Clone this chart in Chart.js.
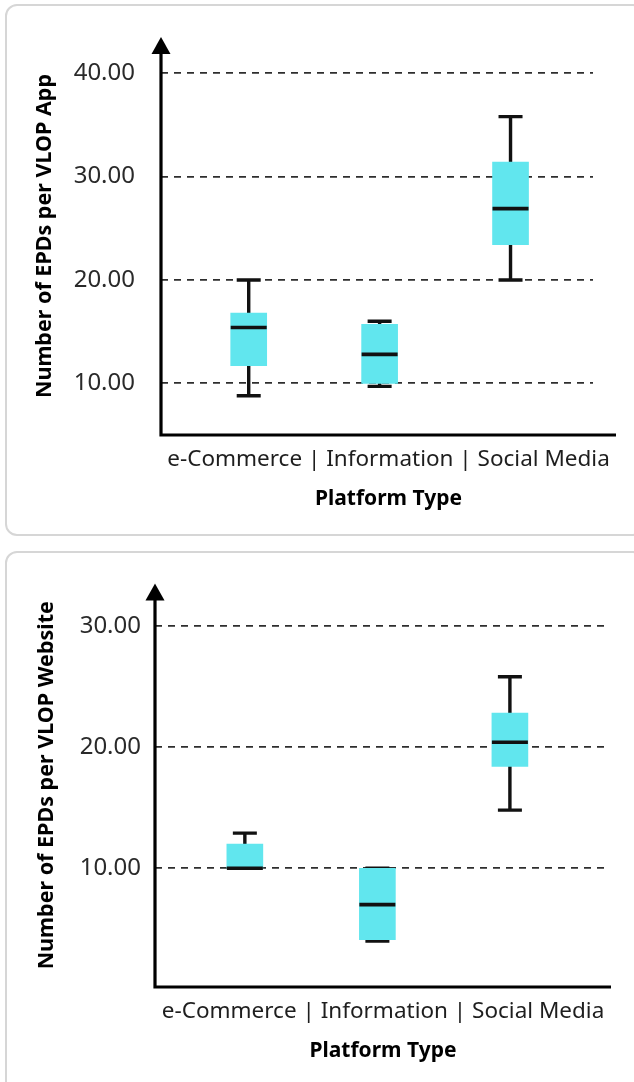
<!DOCTYPE html>
<html>
<head>
<meta charset="utf-8">
<script src="https://cdn.jsdelivr.net/npm/chart.js@4/dist/chart.umd.min.js"></script>
<style>
  html, body { margin: 0; padding: 0; background: #fff; width: 634px; height: 1082px; overflow: hidden; }
  .card { position: absolute; left: 5px; width: 640px; box-sizing: border-box;
          border: 2px solid #d6d6d6; border-radius: 12px; background: #fff; }
  #card1 { top: 4px; height: 532px; }
  #card2 { top: 551px; height: 560px; }
  .card canvas { position: absolute; left: 0; top: 0; }
</style>
</head>
<body>
<div class="card" id="card1"><canvas id="appChart" width="627" height="528"></canvas></div>
<div class="card" id="card2"><canvas id="webChart" width="627" height="528"></canvas></div>
<script>
// Platform categories shared by both panels
const categories = ['e-Commerce', 'Information', 'Social Media'];
const categoryLine = categories.join(' | ');
const xTitle = 'Platform Type';

// EPDs per VLOP app: five-number summaries
const appMin    = [8.8, 9.7, 20.0];
const appQ1     = [11.7, 10.0, 23.4];
const appMedian = [15.4, 12.8, 26.9];
const appQ3     = [16.8, 15.7, 31.4];
const appMax    = [20.0, 16.0, 35.8];
const appTicks  = [10, 20, 30, 40];

// EPDs per VLOP website: five-number summaries
const webMin    = [10.0, 4.0, 14.8];
const webQ1     = [10.0, 4.1, 18.4];
const webMedian = [10.0, 7.0, 20.4];
const webQ3     = [12.0, 10.0, 22.8];
const webMax    = [12.9, 10.0, 25.8];
const webTicks  = [10, 20, 30];

Chart.defaults.font.family = "'Noto Sans', sans-serif";
Chart.defaults.animation = false;

const BOX_COLOR = '#61e6ee';
const INK = '#111111';

// Whiskers, caps and medians are drawn from the summary arrays through the chart scales
const boxPlotPlugin = {
  id: 'boxWhiskers',
  beforeDatasetsDraw(chart, args, opts) {
    const { ctx, scales: { x, y } } = chart;
    ctx.save();
    ctx.strokeStyle = INK;
    ctx.lineWidth = 3.4;
    opts.min.forEach((lo, i) => {
      const cx = x.getPixelForValue(i + 1);
      const yLo = y.getPixelForValue(lo);
      const yHi = y.getPixelForValue(opts.max[i]);
      ctx.beginPath();
      ctx.moveTo(cx, yLo); ctx.lineTo(cx, yHi);
      ctx.moveTo(cx - opts.cap / 2, yLo); ctx.lineTo(cx + opts.cap / 2, yLo);
      ctx.moveTo(cx - opts.cap / 2, yHi); ctx.lineTo(cx + opts.cap / 2, yHi);
      ctx.stroke();
    });
    ctx.restore();
  },
  afterDatasetsDraw(chart, args, opts) {
    const { ctx, scales: { x, y } } = chart;
    ctx.save();
    ctx.strokeStyle = INK;
    ctx.lineWidth = 3.6;
    opts.median.forEach((m, i) => {
      const cx = x.getPixelForValue(i + 1);
      const py = y.getPixelForValue(m);
      ctx.beginPath();
      ctx.moveTo(cx - opts.box / 2, py); ctx.lineTo(cx + opts.box / 2, py);
      ctx.stroke();
    });
    ctx.restore();
  }
};

// Axis lines with an arrow head on the value axis, plus the category line and axis title underneath
const axesPlugin = {
  id: 'arrowAxes',
  afterDraw(chart, args, opts) {
    const { ctx, chartArea: a } = chart;
    ctx.save();
    ctx.strokeStyle = '#000';
    ctx.fillStyle = '#000';
    ctx.lineWidth = 3.2;
    ctx.beginPath();
    ctx.moveTo(a.left, a.bottom + 1.6);
    ctx.lineTo(a.left, a.top + 12);
    ctx.moveTo(a.left - 1.6, a.bottom);
    ctx.lineTo(a.right + opts.extend, a.bottom);
    ctx.stroke();
    ctx.beginPath();
    ctx.moveTo(a.left, a.top);
    ctx.lineTo(a.left - 9.5, a.top + 17);
    ctx.lineTo(a.left + 9.5, a.top + 17);
    ctx.closePath();
    ctx.fill();

    const cx = (a.left + a.right + opts.extend) / 2;
    ctx.textAlign = 'center';
    ctx.textBaseline = 'middle';
    ctx.fillStyle = '#1e1e1e';
    ctx.font = "22.5px 'Noto Sans', sans-serif";
    ctx.fillText(categoryLine, cx, a.bottom + opts.lineGap);
    ctx.fillStyle = '#000';
    ctx.font = "bold 21px 'Noto Sans', sans-serif";
    ctx.fillText(xTitle, cx, a.bottom + opts.titleGap);
    ctx.restore();
  }
};

function makeBoxChart(canvasId, s) {
  const data = categories.map((c, i) => ({ x: i + 1, y: [s.q1[i], s.q3[i]] }));
  return new Chart(document.getElementById(canvasId), {
    type: 'bar',
    data: {
      datasets: [{
        label: s.yTitle,
        data: data,
        backgroundColor: BOX_COLOR,
        borderWidth: 0,
        barThickness: 36
      }]
    },
    plugins: [boxPlotPlugin, axesPlugin],
    options: {
      responsive: false,
      layout: { padding: s.padding },
      plugins: {
        legend: { display: false },
        tooltip: { enabled: false },
        boxWhiskers: { min: s.min, max: s.max, median: s.median, cap: 24, box: 36 },
        arrowAxes: { extend: s.extend, lineGap: 25, titleGap: 64 }
      },
      scales: {
        x: {
          type: 'linear', display: false, offset: false, bounds: 'data', grace: 0,
          min: s.xMin, max: s.xMax
        },
        y: {
          min: s.yMin, max: s.yMax,
          afterBuildTicks: (scale) => { scale.ticks = s.ticks.map(v => ({ value: v })); },
          afterFit: (scale) => {
            scale.width = s.axisWidth;
            scale.paddingTop = 0;
            scale.paddingBottom = 0;
          },
          border: { display: false, dash: [7, 6] },
          grid: { color: '#2e2e2e', lineWidth: 1.8, drawTicks: false },
          ticks: {
            padding: s.tickPad,
            color: '#2a2a2a',
            font: { size: 24 },
            callback: (v) => Number(v).toFixed(2)
          },
          title: {
            display: true,
            text: s.yTitle,
            color: '#000',
            font: { size: 21.5, weight: 'bold' },
            padding: { top: s.titlePad, bottom: 0 }
          }
        }
      }
    }
  });
}

makeBoxChart('appChart', {
  yTitle: 'Number of EPDs per VLOP App',
  min: appMin, q1: appQ1, median: appMedian, q3: appQ3, max: appMax, ticks: appTicks,
  yMin: 5, yMax: 43.5, xMin: 0.33, xMax: 3.63,
  padding: { left: 0, right: 41, top: 31, bottom: 99 },
  axisWidth: 154, tickPad: 26, titlePad: 25, extend: 23
});

makeBoxChart('webChart', {
  yTitle: 'Number of EPDs per VLOP Website',
  min: webMin, q1: webQ1, median: webMedian, q3: webQ3, max: webMax, ticks: webTicks,
  yMin: 0.2, yMax: 33.5, xMin: 0.322, xMax: 3.71,
  padding: { left: 0, right: 30, top: 30.5, bottom: 94 },
  axisWidth: 148, tickPad: 14, titlePad: 26.5, extend: 7
});
</script>
</body>
</html>
